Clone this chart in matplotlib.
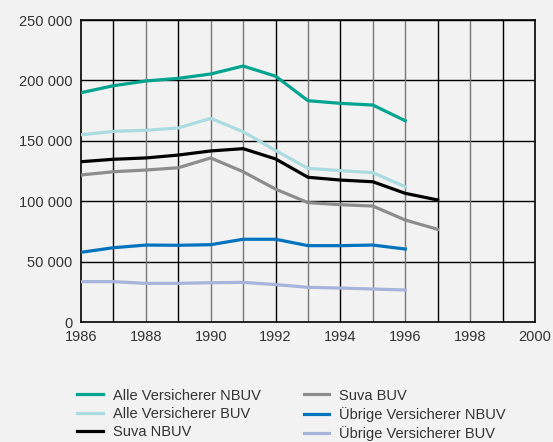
import matplotlib.pyplot as plt

plt.rcParams['font.family'] = ['Liberation Sans', 'DejaVu Sans']

years = list(range(1986, 1998))
alle_nbuv = [189800, 195600, 199500, 201700, 205300, 211900, 203500, 183200, 181000, 179600, 166600]
alle_buv = [155000, 157800, 158700, 160600, 168600, 157500, 142000, 127200, 125300, 123600, 112000]
suva_nbuv = [132700, 134700, 135800, 138200, 141600, 143500, 135000, 119800, 117500, 116100, 106500, 101000]
suva_buv = [121700, 124400, 125800, 127700, 135800, 124400, 110000, 98800, 97100, 96000, 84400, 76700]
uebrige_nbuv = [57700, 61500, 63700, 63500, 64000, 68500, 68500, 63200, 63200, 63700, 60400]
uebrige_buv = [33400, 33400, 32000, 32000, 32500, 32800, 31000, 28700, 28100, 27300, 26500]

series = [
    ("Alle Versicherer NBUV", alle_nbuv, "#00a48e"),
    ("Alle Versicherer BUV", alle_buv, "#aadbe0"),
    ("Suva NBUV", suva_nbuv, "#000000"),
    ("Suva BUV", suva_buv, "#8c8c8c"),
    ("Übrige Versicherer NBUV", uebrige_nbuv, "#0073bf"),
    ("Übrige Versicherer BUV", uebrige_buv, "#a8b3dc"),
]

bg = "#f2f2f2"
fig = plt.figure(figsize=(5.53, 4.42), dpi=100, facecolor=bg)
ax = fig.add_axes([81 / 553, 1 - 322 / 442, (535 - 81) / 553, (322 - 20) / 442])
ax.set_facecolor(bg)

# grid: horizontal black, vertical per year alternating
for y in range(50000, 250001, 50000):
    ax.axhline(y, color="black", lw=1.0, zorder=1)
for yr in range(1987, 2000):
    c = "black" if yr in (1987, 1989, 1992, 1994, 1997, 1999) else "#777777"
    ax.axvline(yr, color=c, lw=1.0, zorder=1)

for name, vals, col in series:
    ax.plot(years[:len(vals)], vals, color=col, lw=2.3, label=name, zorder=3,
            solid_joinstyle="round")

ax.set_xlim(1986, 2000)
ax.set_ylim(0, 250000)
ax.set_xticks(range(1986, 2001, 2))
ax.set_yticks(range(0, 250001, 50000))
ax.set_yticklabels([f"{v:,}".replace(",", " ") for v in range(0, 250001, 50000)])
ax.tick_params(length=0, labelsize=10.5, colors="#333333", pad=6)
for s in ax.spines.values():
    s.set_color("black")
    s.set_linewidth(1.2)

fig.legend(loc="lower left", bbox_to_anchor=(64 / 553, -0.028), ncol=2, frameon=False,
           fontsize=10.5, handlelength=1.75, handletextpad=0.7, columnspacing=2.95,
           labelspacing=0.3, labelcolor="#333333")

fig.savefig("out.png", dpi=100, facecolor=bg)
